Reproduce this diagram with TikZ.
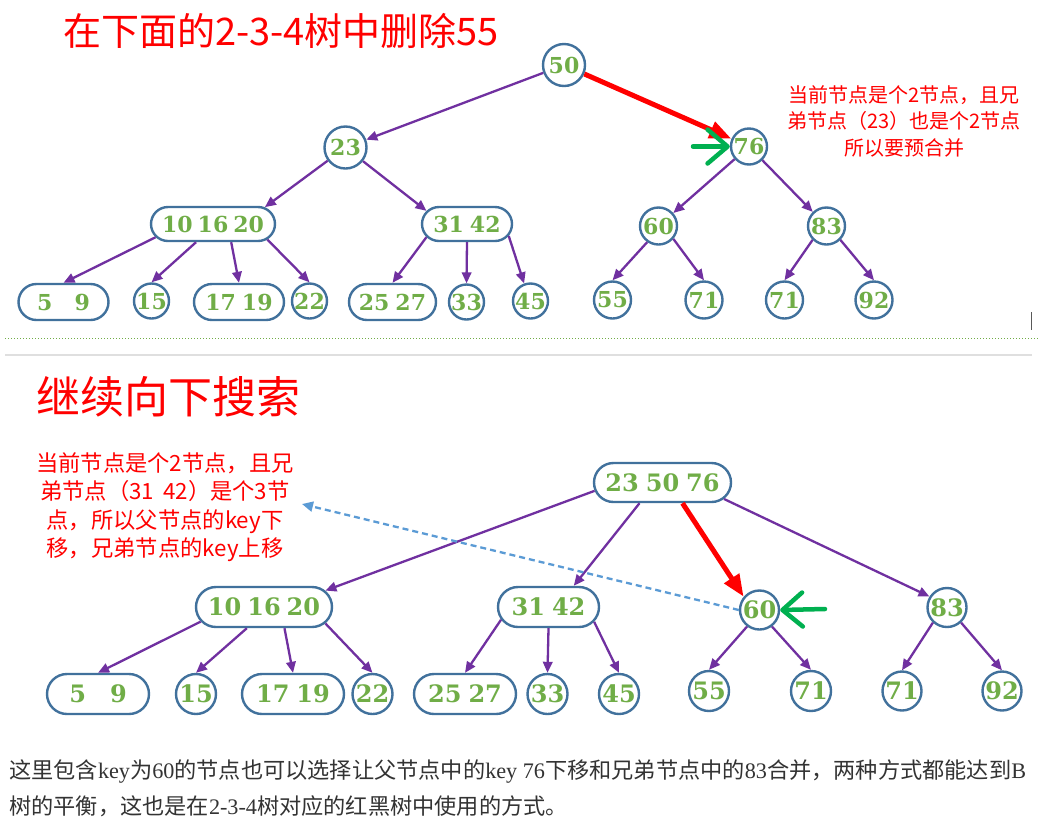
\documentclass[tikz,border=0pt]{standalone}
\usepackage{fontspec}
\setmainfont{Liberation Serif}
\newfontfamily\cjk{Noto Sans CJK SC}
\newfontfamily\numfont{DejaVu Serif}
\usetikzlibrary{arrows.meta,shapes.misc,calc}
\definecolor{nblue}{HTML}{41719C}
\definecolor{ngreen}{HTML}{70AD47}
\definecolor{epurple}{HTML}{7030A0}
\definecolor{garrow}{HTML}{00B050}
\definecolor{lblue}{HTML}{5B9BD5}
\definecolor{rred}{HTML}{FF0000}
\definecolor{captxt}{HTML}{333333}
\begin{document}
\begin{tikzpicture}[x=1pt,y=-1pt,
  keyb/.style={draw=nblue, line width=2.4pt, fill=white, text=ngreen, inner sep=0pt},
  topf/.style={font=\numfont\bfseries\fontsize{22}{22}\selectfont},
  botf/.style={font=\numfont\bfseries\fontsize{24}{24}\selectfont},
  circ/.style={keyb, circle, minimum size=#1},
  rbox/.style 2 args={keyb, rounded rectangle, minimum width=#1, minimum height=#2},
  pe/.style={draw=epurple, line width=2.3pt, -{Triangle[length=11pt,width=9.5pt]}},
  redarr/.style={draw=rred, line width=5pt, -{Triangle[length=22pt,width=17pt]}},
  garr/.style={draw=garrow, line width=4.5pt, line cap=round, -{Straight Barb[length=20pt,width=34pt,line width=4.5pt,round]}},
  bluedash/.style={draw=lblue, line width=2.3pt, dash pattern=on 6pt off 4pt, -{Triangle[length=11pt,width=10pt]}},
  titlef/.style={text=rred, inner sep=0pt, font=\cjk\fontsize{#1}{#1}\selectfont},
  annf/.style={text=rred, inner sep=0pt, align=center},
  capf/.style={text=captxt, inner sep=0pt, anchor=west, font=\fontsize{22.2}{22.2}\selectfont}
]
\useasboundingbox (0,0) rectangle (1038,823);
\fill[white] (0,0) rectangle (1038,823);

% ---------- separators ----------
\draw[ngreen, line width=1pt, dotted] (5,338) -- (1038,338);
\draw[gray!25, line width=1.2pt] (5,355) -- (1032,355);
\draw[gray!70!black, line width=1pt] (1031,312) -- (1031,330);

% ---------- titles ----------
\node[titlef=38] (title1) at (281,31) {在下面的2-3-4树中删除55};
\node[titlef=44] (title2) at (168,397) {继续向下搜索};

% ---------- top annotation ----------
\node[annf, font=\cjk\fontsize{20}{26.5}\selectfont] (ann1) at (904,121)
  {当前节点是个2节点，且兄\\弟节点（23）也是个2节点\\所以要预合并};

% ---------- bottom annotation ----------
\node[annf, font=\cjk\fontsize{22.3}{28.5}\selectfont] (ann2) at (165,507)
  {当前节点是个2节点，且兄\\弟节点（31\hspace{9pt}42）是个3节\\点，所以父节点的key下\\移，兄弟节点的key上移};

% ---------- top tree ----------
\node[circ=42, topf] (a50) at (564,65) {50};
\node[circ=42, topf] (a23) at (345.5,147.5) {23};
\node[circ=36, topf] (a76) at (749,146.5) {76};
\node[rbox={124}{34}, topf] (a1) at (213,224) {10\hspace{5pt}16\hspace{5pt}20};
\node[rbox={90}{34}, topf] (a2) at (467,224) {31\hspace{6pt}42};
\node[circ=37, topf] (a60) at (658.5,226) {60};
\node[circ=37, topf] (a83) at (826.5,226) {83};
\node[rbox={90}{36}, topf] (l1) at (63.5,302) {5\hspace{22pt}9};
\node[circ=35, topf] (l2) at (151.5,301) {15};
\node[rbox={90}{36}, topf] (l3) at (239,302) {17\hspace{6pt}19};
\node[circ=35, topf] (l4) at (309.5,301) {22};
\node[rbox={87}{36}, topf] (l5) at (392.5,302) {25\hspace{6pt}27};
\node[circ=35, topf] (l6) at (466.5,302) {33};
\node[circ=35, topf] (l7) at (530.5,301) {45};
\node[circ=37, topf] (l8) at (612.5,300) {55};
\node[circ=37, topf] (l9) at (704,300) {71};
\node[circ=37, topf] (l10) at (784.5,300) {71};
\node[circ=37, topf] (l11) at (874,300) {92};

\draw[pe] (a50) -- (a23);
\draw[redarr] (a50) -- (a76);
\draw[pe] (a23) -- (a1.18);
\draw[pe] (a23) -- (a2.162);
\draw[pe] (a76) -- (a60);
\draw[pe] (a76) -- (a83);
\draw[pe] (a1.193) -- (l1.north);
\draw[pe] (a1.227) -- (l2.north);
\draw[pe] (a1.315) -- (l3.north);
\draw[pe] (a1.344) -- (l4.north);
\draw[pe] (a2.198) -- (l5.north);
\draw[pe] (a2.south) -- (l6.north);
\draw[pe] (a2.344) -- (l7.110);
\draw[pe] (a60.235) -- (l8.north);
\draw[pe] (a60.319) -- (l9.north);
\draw[pe] (a83.225) -- (l10.north);
\draw[pe] (a83.315) -- (l11.north);

\coordinate (g1) at (693,146.5);
\draw[garr] (g1) -- (a76.west);

% ---------- bottom tree ----------
\node[rbox={137}{39}, botf] (r) at (662.5,482.5) {23\hspace{7pt}50\hspace{7pt}76};
\node[rbox={136}{40}, botf] (b1) at (264,607) {10\hspace{6pt}16\hspace{6pt}20};
\node[rbox={101}{40}, botf] (b2) at (548.5,607) {31\hspace{7pt}42};
\node[circ=39, botf] (b60) at (759.5,610) {60};
\node[circ=39, botf] (b83) at (947,607.5) {83};
\node[rbox={102}{40}, botf] (m1) at (98,694) {5\hspace{24pt}9};
\node[circ=40, botf] (m2) at (196,694) {15};
\node[rbox={102}{40}, botf] (m3) at (293,694) {17\hspace{7pt}19};
\node[circ=40, botf] (m4) at (372.5,694) {22};
\node[rbox={102}{40}, botf] (m5) at (465,694) {25\hspace{7pt}27};
\node[circ=40, botf] (m6) at (547.5,694) {33};
\node[circ=40, botf] (m7) at (619,694) {45};
\node[circ=40, botf] (m8) at (709,691) {55};
\node[circ=40, botf] (m9) at (811,691) {71};
\node[circ=39, botf] (m10) at (902,691) {71};
\node[circ=39, botf] (m11) at (1002,691) {92};

\draw[pe] (r.187) -- (b1.15);
\draw[pe] (r.222) -- (b2.40);
\draw[redarr] (r.314) -- (b60.140);
\draw[pe] (r.345) -- (b83.148);
\draw[pe] (b1.193) -- (m1.north);
\draw[pe] (b1.231) -- (m2.north);
\draw[pe] (b1.314) -- (m3.north);
\draw[pe] (b1.345) -- (m4.north);
\draw[pe] (b2.195) -- (m5.north);
\draw[pe] (b2.south) -- (m6.north);
\draw[pe] (b2.342) -- (m7.north);
\draw[pe] (b60.233) -- (m8.north);
\draw[pe] (b60.307) -- (m9.north);
\draw[pe] (b83.227) -- (m10.north);
\draw[pe] (b83.313) -- (m11.north);

\coordinate (d1) at (302,504);
\draw[bluedash] (b60.west) -- (d1);
\coordinate (g2) at (825,609);
\draw[garr] (g2) -- (b60.east);

% ---------- caption ----------
\node[capf] (cap1) at (9,771) {{\cjk 这里包含}key{\cjk 为}60{\cjk 的节点也可以选择让父节点中的}key 76{\cjk 下移和兄弟节点中的}83{\cjk 合并，两种方式都能达到}B};
\node[capf] (cap2) at (9,806) {{\cjk 树的平衡，这也是在}2-3-4{\cjk 树对应的红黑树中使用的方式。}};
\end{tikzpicture}
\end{document}
